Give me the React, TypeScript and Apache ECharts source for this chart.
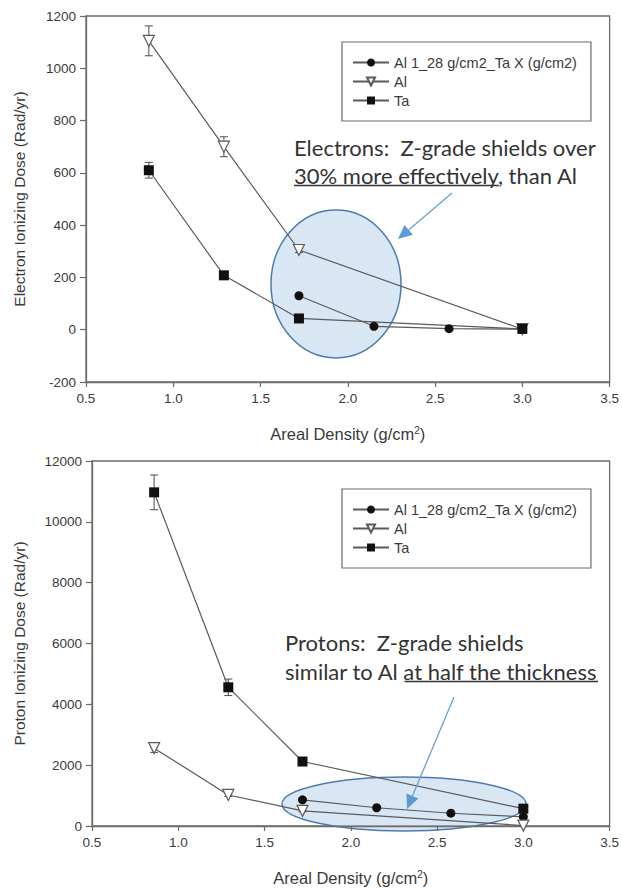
import React, { useEffect, useRef } from 'react';
import * as echarts from 'echarts';

// ---- data ----
const seriesNames = ['Al 1_28 g/cm2_Ta X (g/cm2)', 'Al', 'Ta'];
const mixX = [1.72, 2.15, 2.58, 3.0];
const pureX = [0.86, 1.29, 1.72, 3.0];

const electronMix = [130, 13, 4, 2];
const electronAl = [1105, 700, 305, 2];
const electronAlErr = [57, 38, 10, 0];
const electronTa = [610, 208, 43, 3];
const electronTaErr = [30, 12, 6, 0];

const protonMix = [860, 600, 420, 300];
const protonAl = [2560, 1020, 500, 15];
const protonAlErr = [140, 50, 30, 0];
const protonTa = [10970, 4560, 2120, 570];
const protonTaErr = [570, 270, 100, 0];

const xAxisRange = [0.5, 3.5, 0.5];
const electronYRange = [-200, 1200, 200];
const protonYRange = [0, 12000, 2000];

const electronYTitle = 'Electron Ionizing Dose (Rad/yr)';
const protonYTitle = 'Proton Ionizing Dose (Rad/yr)';
const xTitle = 'Areal Density (g/cm{sup|2})';

const electronNote = ['Electrons:  Z-grade shields over', '30% more effectively', ', than Al'];
const protonNote = ['Protons:  Z-grade shields', 'similar to Al ', 'at half the thickness'];

// ---- styles ----
const AXIS_COLOR = '#6b6b6b';
const TEXT_COLOR = '#3a3a3a';
const LINE_COLOR = '#5a5a5a';
const MARK_COLOR = '#111';
const NOTE_FONT = 'Lato';
const NOTE_SIZE = 22;

function measure(text: string, size: number, family: string): number {
  const c = document.createElement('canvas').getContext('2d');
  if (!c) return text.length * size * 0.45;
  c.font = `${size}px ${family}`;
  return c.measureText(text).width;
}

function zip(xs: number[], ys: number[]) {
  return xs.map((x, i) => [x, ys[i]]);
}

function errData(xs: number[], ys: number[], es: number[]) {
  return xs
    .map((x, i) => [x, ys[i] - es[i], ys[i] + es[i]])
    .filter((_, i) => es[i] > 0);
}

function errorSeries(idx: number, data: number[][]) {
  return {
    type: 'custom',
    xAxisIndex: idx,
    yAxisIndex: idx,
    z: 1,
    silent: true,
    encode: { x: 0, y: [1, 2] },
    data,
    renderItem: (params: any, api: any) => {
      const x = api.value(0);
      const lo = api.coord([x, api.value(1)]);
      const hi = api.coord([x, api.value(2)]);
      const cap = 4;
      const st = { stroke: LINE_COLOR, lineWidth: 1.1 };
      return {
        type: 'group',
        children: [
          { type: 'line', shape: { x1: lo[0], y1: lo[1], x2: hi[0], y2: hi[1] }, style: st },
          { type: 'line', shape: { x1: lo[0] - cap, y1: lo[1], x2: lo[0] + cap, y2: lo[1] }, style: st },
          { type: 'line', shape: { x1: hi[0] - cap, y1: hi[1], x2: hi[0] + cap, y2: hi[1] }, style: st },
        ],
      };
    },
  };
}

function lineSeries(idx: number) {
  return (name: string, data: number[][]) => {
    const base: any = {
      name,
      type: 'line',
      xAxisIndex: idx,
      yAxisIndex: idx,
      data,
      z: 3,
      lineStyle: { color: LINE_COLOR, width: 1.2 },
      emphasis: { disabled: true },
    };
    if (name === 'Al') {
      base.symbol = 'triangle';
      base.symbolRotate = 180;
      base.symbolSize = 11;
      base.itemStyle = { color: '#fff', borderColor: LINE_COLOR, borderWidth: 1.2 };
    } else if (name === 'Ta') {
      base.symbol = 'rect';
      base.symbolSize = 10;
      base.itemStyle = { color: MARK_COLOR, borderColor: MARK_COLOR, borderWidth: 0 };
    } else {
      base.symbol = 'circle';
      base.symbolSize = 9;
      base.itemStyle = { color: MARK_COLOR, borderColor: MARK_COLOR, borderWidth: 0 };
    }
    return base;
  };
}

function xAxis(idx: number) {
  return {
    type: 'value',
    gridIndex: idx,
    min: xAxisRange[0],
    max: xAxisRange[1],
    interval: xAxisRange[2],
    axisLine: { show: true, onZero: false, lineStyle: { color: AXIS_COLOR, width: 1.3 } },
    axisTick: { show: true, inside: false, length: 5, lineStyle: { color: AXIS_COLOR, width: 1.2 } },
    axisLabel: {
      formatter: (v: number) => v.toFixed(1),
      color: TEXT_COLOR,
      fontSize: 13.5,
      fontFamily: 'Liberation Sans',
      margin: 9,
    },
    splitLine: { show: false },
    name: xTitle,
    nameLocation: 'middle',
    nameGap: 43,
    nameTextStyle: {
      color: TEXT_COLOR,
      fontSize: 16.5,
      fontFamily: 'Liberation Sans',
      rich: {
        sup: { fontSize: 10, fontFamily: 'Liberation Sans', color: TEXT_COLOR, verticalAlign: 'top', lineHeight: 18 },
      },
    },
  };
}

function yAxis(idx: number, range: number[], title: string, gap: number) {
  return {
    type: 'value',
    gridIndex: idx,
    min: range[0],
    max: range[1],
    interval: range[2],
    axisLine: { show: true, onZero: false, lineStyle: { color: AXIS_COLOR, width: 1.3 } },
    axisTick: { show: true, inside: false, length: 6, lineStyle: { color: AXIS_COLOR, width: 1.2 } },
    axisLabel: {
      color: TEXT_COLOR,
      fontSize: 13.5,
      fontFamily: 'Liberation Sans',
      margin: 10,
      formatter: (v: number) => String(v),
    },
    splitLine: { show: false },
    name: title,
    nameLocation: 'middle',
    nameGap: gap,
    nameTextStyle: { color: TEXT_COLOR, fontSize: 15.5, fontFamily: 'Liberation Sans' },
  };
}

function legend(top: number) {
  return {
    data: seriesNames,
    orient: 'vertical',
    left: 342,
    top,
    padding: [13, 14, 13, 10],
    itemGap: 4,
    itemWidth: 36,
    itemHeight: 10,
    borderColor: AXIS_COLOR,
    borderWidth: 1.2,
    selectedMode: false,
    textStyle: { color: TEXT_COLOR, fontSize: 14.5, fontFamily: 'Liberation Sans', lineHeight: 14 },
  };
}

function arrow(x1: number, y1: number, x2: number, y2: number) {
  const dx = x2 - x1;
  const dy = y2 - y1;
  const len = Math.sqrt(dx * dx + dy * dy);
  const ux = dx / len;
  const uy = dy / len;
  const head = 14;
  const half = 6.5;
  const bx = x2 - ux * head;
  const by = y2 - uy * head;
  return [
    {
      type: 'line',
      shape: { x1, y1, x2: bx, y2: by },
      style: { stroke: '#6a9fd4', lineWidth: 1.3 },
      z: 10,
    },
    {
      type: 'polygon',
      shape: {
        points: [
          [x2, y2],
          [bx - uy * half, by + ux * half],
          [bx + uy * half, by - ux * half],
        ],
      },
      style: { fill: '#5b9bd5' },
      z: 10,
    },
  ];
}

function note(x: number, y1: number, y2: number, lines: string[], underlineFirst: boolean) {
  const els: any[] = [];
  const txtStyle = (t: string) => ({
    text: t,
    fontSize: NOTE_SIZE,
    fontFamily: NOTE_FONT,
    fill: '#333',
    verticalAlign: 'middle',
    align: 'left',
  });
  els.push({ type: 'text', x, y: y1, style: txtStyle(lines[0]), z: 10 });
  els.push({ type: 'text', x, y: y2, style: txtStyle(lines[1] + lines[2]), z: 10 });
  const w1 = measure(lines[1], NOTE_SIZE, NOTE_FONT);
  const w2 = measure(lines[2], NOTE_SIZE, NOTE_FONT);
  const ux1 = underlineFirst ? x : x + w1;
  const ux2 = underlineFirst ? x + w1 : x + w1 + w2;
  els.push({
    type: 'line',
    shape: { x1: ux1, y1: y2 + 10.5, x2: ux2, y2: y2 + 10.5 },
    style: { stroke: '#333', lineWidth: 1.4 },
    z: 10,
  });
  return els;
}

export default function App() {
  const ref = useRef<HTMLDivElement>(null);
  useEffect(() => {
    if (!ref.current) return;
    const chart = echarts.init(ref.current, undefined, { renderer: 'svg' });
    const top = lineSeries(0);
    const bot = lineSeries(1);
    const option: any = {
      animation: false,
      backgroundColor: '#fff',
      grid: [
        { left: 86, top: 16, width: 524, height: 366, show: true, borderColor: AXIS_COLOR, borderWidth: 1.3, backgroundColor: 'transparent' },
        { left: 92, top: 461, width: 519, height: 365, show: true, borderColor: AXIS_COLOR, borderWidth: 1.3, backgroundColor: 'transparent' },
      ],
      xAxis: [xAxis(0), xAxis(1)],
      yAxis: [yAxis(0, electronYRange, electronYTitle, 59), yAxis(1, protonYRange, protonYTitle, 65)],
      legend: [legend(42), legend(489)],
      series: [
        top(seriesNames[0], zip(mixX, electronMix)),
        top(seriesNames[1], zip(pureX, electronAl)),
        top(seriesNames[2], zip(pureX, electronTa)),
        errorSeries(0, errData(pureX, electronAl, electronAlErr)),
        errorSeries(0, errData(pureX, electronTa, electronTaErr)),
        bot(seriesNames[0], zip(mixX, protonMix)),
        bot(seriesNames[1], zip(pureX, protonAl)),
        bot(seriesNames[2], zip(pureX, protonTa)),
        errorSeries(1, errData(pureX, protonAl, protonAlErr)),
        errorSeries(1, errData(pureX, protonTa, protonTaErr)),
      ],
      graphic: [
        {
          type: 'ellipse',
          shape: { cx: 336, cy: 284, rx: 65, ry: 74 },
          style: { fill: 'rgba(180,207,235,0.5)', stroke: '#4f7bab', lineWidth: 1.5 },
          z: 0,
        },
        {
          type: 'ellipse',
          shape: { cx: 404, cy: 804, rx: 122, ry: 27 },
          style: { fill: 'rgba(180,207,235,0.5)', stroke: '#4f7bab', lineWidth: 1.5 },
          z: 0,
        },
        ...arrow(452, 193, 398, 239),
        ...arrow(454, 697, 407, 809),
        ...note(294, 147, 175, electronNote, true),
        ...note(285, 642, 671, protonNote, false),
      ],
    };
    chart.setOption(option);
    return () => chart.dispose();
  }, []);
  return <div ref={ref} style={{ position: 'absolute', left: 0, top: 0, width: 622, height: 889 }} />;
}
